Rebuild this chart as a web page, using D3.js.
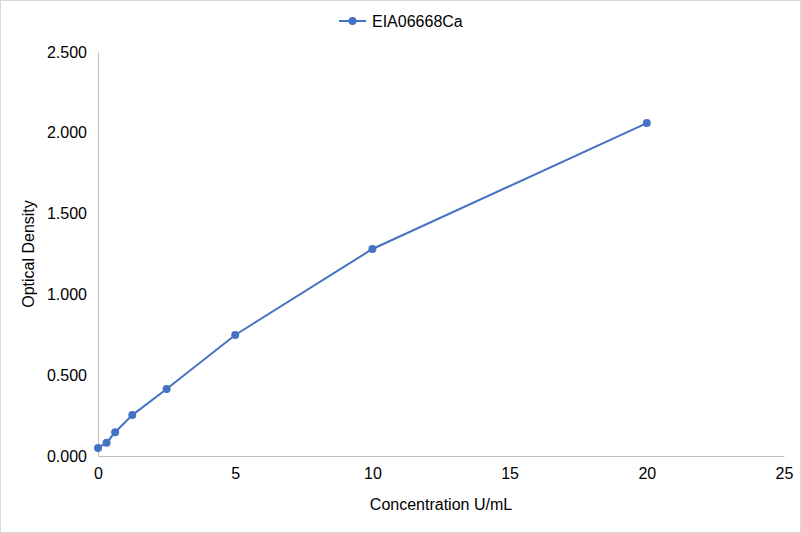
<!DOCTYPE html>
<html>
<head>
<meta charset="utf-8">
<script src="https://cdn.jsdelivr.net/npm/d3@7"></script>
<style>
  body { margin: 0; background: #fff; }
  text { font-family: "Liberation Sans", Arial, sans-serif; fill: #000; }
</style>
</head>
<body>
<div id="chart"></div>
<script>
var seriesName = "EIA06668Ca"
var concentrations = [0, 0.3125, 0.625, 1.25, 2.5, 5, 10, 20]
var densities = [0.050, 0.082, 0.147, 0.253, 0.415, 0.749, 1.281, 2.060]
var xTicks = [0, 5, 10, 15, 20, 25]
var yTicks = [0, 0.5, 1.0, 1.5, 2.0, 2.5]

var W = 801, H = 533
var margin = { top: 52, right: 17, bottom: 77, left: 98 },
    width = W - margin.left - margin.right,
    height = H - margin.top - margin.bottom

var svg = d3.select("#chart").append("svg")
    .attr("width", W)
    .attr("height", H)

svg.append("rect")
    .attr("x", 0.5).attr("y", 0.5)
    .attr("width", W - 1).attr("height", H - 1)
    .attr("fill", "#fff").attr("stroke", "#d9d9d9")

var g = svg.append("g")
    .attr("transform", "translate(" + margin.left + "," + margin.top + ")")

var x = d3.scaleLinear().domain([0, 25]).range([0, width])
var y = d3.scaleLinear().domain([0, 2.5]).range([height, 0])

// axes
var xAxis = g.append("g")
    .attr("transform", "translate(0," + height + ")")
    .call(d3.axisBottom(x).tickValues(xTicks).tickSize(0).tickPadding(12))
xAxis.select(".domain").attr("stroke", "#bfbfbf")
xAxis.selectAll("text").style("font-size", "16px").attr("fill", "#000")

var yAxis = g.append("g")
    .call(d3.axisLeft(y).tickValues(yTicks).tickSize(0).tickPadding(11)
        .tickFormat(d3.format(".3f")))
yAxis.select(".domain").attr("stroke", "#bfbfbf")
yAxis.selectAll("text").style("font-size", "16px").attr("fill", "#000")

// series
var pts = concentrations.map((c, i) => [c, densities[i]])
var color = "#4472c4"

g.append("path")
    .datum(pts)
    .attr("fill", "none")
    .attr("stroke", color)
    .attr("stroke-width", 2)
    .attr("d", d3.line().x(d => x(d[0])).y(d => y(d[1])))

g.selectAll("circle.pt")
    .data(pts)
    .enter().append("circle")
    .attr("class", "pt")
    .attr("cx", d => x(d[0]))
    .attr("cy", d => y(d[1]))
    .attr("r", 4)
    .attr("fill", color)

// axis titles
svg.append("text")
    .attr("x", margin.left + width / 2)
    .attr("y", 510)
    .attr("text-anchor", "middle")
    .style("font-size", "16px")
    .text("Concentration U/mL")

svg.append("text")
    .attr("transform", "translate(34," + (margin.top + height / 2) + ") rotate(-90)")
    .attr("text-anchor", "middle")
    .style("font-size", "16px")
    .text("Optical Density")

// legend
var lg = svg.append("g").attr("transform", "translate(339,21)")
lg.append("line")
    .attr("x1", 0).attr("x2", 27).attr("y1", 0).attr("y2", 0)
    .attr("stroke", color).attr("stroke-width", 2)
lg.append("circle").attr("cx", 13.5).attr("cy", 0).attr("r", 4).attr("fill", color)
lg.append("text")
    .attr("x", 33).attr("y", 6)
    .style("font-size", "16px")
    .text(seriesName)
</script>
</body>
</html>
